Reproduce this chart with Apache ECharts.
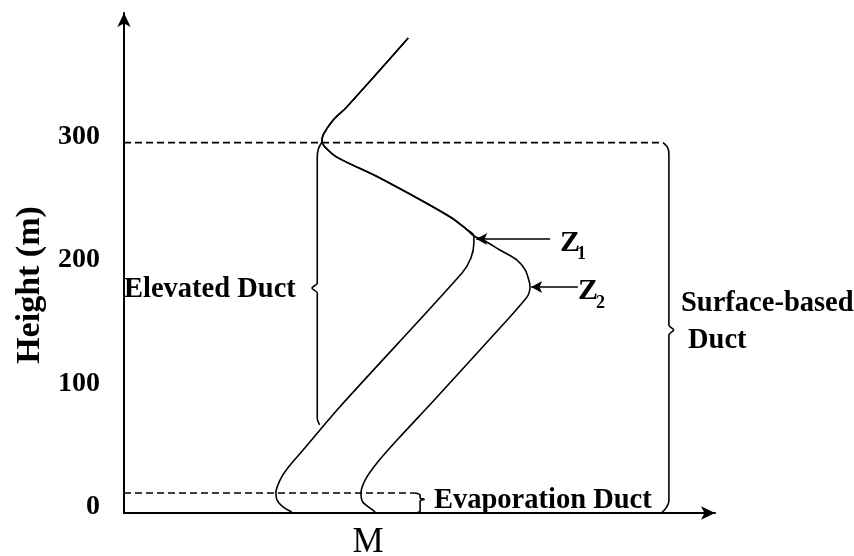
<!DOCTYPE html>
<html>
<head>
<meta charset="utf-8">
<script src="https://cdn.jsdelivr.net/npm/echarts@6/dist/echarts.min.js"></script>
<style>
html, body { margin: 0; padding: 0; background: #fff; }
#main { width: 854px; height: 556px; }
</style>
</head>
<body>
<div id="main"></div>
<script>
// M is in arbitrary units (0..100 along the axis), height in metres
var upperM = [48.1, 37.7, 35.4, 33.7, 33.5, 34.0, 36.0, 43.3, 55.2, 57.9, 59.2];
var upperH = [384.7, 328.9, 318.3, 306.2, 300.5, 296.5, 288.3, 271.3, 239.8, 230.0, 224.4];
var elevM = [59.2, 58.7, 57.2, 36.5, 30.3, 27.7, 26.4, 25.7, 25.9, 26.9, 28.4];
var elevH = [218.7, 206.5, 194.4, 85.9, 51.0, 36.4, 26.7, 16.2, 10.5, 4.9, 0.8];
var surfM = [61.1, 63.6, 66.5, 67.9, 68.5, 68.7, 68.4, 67.5, 65.3, 52.5, 46.2, 42.8, 40.8, 40.1, 40.4, 42.1, 42.5];
var surfH = [220.3, 213.0, 204.9, 196.8, 188.7, 183.1, 176.6, 170.9, 158.8, 91.5, 59.1, 40.5, 26.7, 16.2, 8.9, 2.4, 0.8];
var yTicks = [0, 100, 200, 300];

// duct tops (dashed lines) and where they stop on the M axis
var ductTopH = [300, 16.2];
var ductTopEnd = [91.2, 49.2];

// braces
var elevBrace = [[33.5, 300.5], [32.9, 295], [32.7, 288], [32.7, 186.3], [31.8, 182.2], [32.7, 178.1], [32.7, 77], [33.1, 71.3]];
var surfBrace = [[91.2, 300], [92.0, 296], [92.2, 290], [92.2, 152.3], [93.0, 148.2], [92.2, 144.1], [92.2, 10], [91.7, 4], [90.9, 0]];
var evapBrace = [[49.2, 16.2], [50.1, 14.6], [50.1, 12.2], [50.8, 11.0], [50.1, 9.8], [50.1, 1.6], [49.4, 0]];

// Z1 / Z2 arrows: [from M, to M, height]
var z1Arrow = [72.1, 59.6, 221.9];
var z2Arrow = [76.8, 68.9, 183.1];

function zip(ms, hs) {
    return ms.map(function (m, i) { return [m, hs[i]]; });
}

var serif = '"Liberation Serif", "Times New Roman", serif';
var black = '#000';
var noteFont = 'bold 28.5px ' + serif;

function lineSeries(data, extra) {
    var s = {
        type: 'line',
        data: data,
        symbol: 'none',
        silent: true,
        lineStyle: { color: black, width: 1.6 }
    };
    for (var k in extra) s[k] = extra[k];
    return s;
}

var myChart = echarts.init(document.getElementById('main'));
var option = {
    backgroundColor: '#fff',
    animation: false,
    grid: { left: 124, right: 139, top: 13, bottom: 43, outerBoundsMode: 'none' },
    xAxis: {
        type: 'value',
        min: 0,
        max: 100,
        axisLine: {
            show: true,
            symbol: ['none', 'arrow'],
            symbolSize: [10, 14],
            lineStyle: { color: black, width: 2 }
        },
        axisTick: { show: false },
        axisLabel: { show: false },
        splitLine: { show: false },
        name: 'M',
        nameLocation: 'middle',
        nameGap: 12,
        nameTextStyle: { fontFamily: serif, fontSize: 35, color: black, padding: [0, 103, 0, 0] }
    },
    yAxis: {
        type: 'value',
        min: 0,
        max: 405,
        interval: 100,
        axisLine: {
            show: true,
            symbol: ['none', 'arrow'],
            symbolSize: [10, 14],
            lineStyle: { color: black, width: 2 }
        },
        axisTick: { show: false },
        splitLine: { show: false },
        axisLabel: {
            margin: 24,
            fontFamily: serif,
            fontWeight: 'bold',
            fontSize: 28,
            color: black,
            verticalAlign: 'bottom',
            lineHeight: 12,
            formatter: function (v) { return yTicks.indexOf(v) >= 0 ? v : ''; }
        },
        name: 'Height (m)',
        nameLocation: 'middle',
        nameRotate: 90,
        nameGap: 73,
        nameTextStyle: { fontFamily: serif, fontWeight: 'bold', fontSize: 34, color: black, padding: [0, 44, 0, 0] }
    },
    series: [
        lineSeries(zip(upperM, upperH).concat(zip(elevM, elevH)), { smooth: 0.3 }),
        lineSeries(zip(upperM, upperH).concat(zip(surfM, surfH)), { smooth: 0.3 }),
        lineSeries([[0, ductTopH[0]], [ductTopEnd[0], ductTopH[0]]], { lineStyle: { color: black, width: 1.6, type: [7, 4] } }),
        lineSeries([[0, ductTopH[1]], [ductTopEnd[1], ductTopH[1]]], { lineStyle: { color: black, width: 1.6, type: [7, 4] } }),
        lineSeries(elevBrace, { smooth: 0.3 }),
        lineSeries(surfBrace, { smooth: 0.3 }),
        lineSeries(evapBrace, { smooth: 0.3 }),
        lineSeries([], {
            markLine: {
                silent: true,
                symbol: ['none', 'arrow'],
                symbolSize: [9, 11],
                label: { show: false },
                lineStyle: { color: black, width: 1.6, type: 'solid' },
                data: [
                    [{ coord: [z1Arrow[0], z1Arrow[2]] }, { coord: [z1Arrow[1], z1Arrow[2]] }],
                    [{ coord: [z2Arrow[0], z2Arrow[2]] }, { coord: [z2Arrow[1], z2Arrow[2]] }]
                ]
            }
        })
    ],
    graphic: [
        { type: 'text', x: 124, y: 290, style: { text: 'Elevated Duct', font: noteFont, fill: black, verticalAlign: 'middle' } },
        { type: 'text', x: 434, y: 501, style: { text: 'Evaporation Duct', font: noteFont, fill: black, verticalAlign: 'middle' } },
        { type: 'text', x: 681, y: 304, style: { text: 'Surface-based', font: noteFont, fill: black, verticalAlign: 'middle' } },
        { type: 'text', x: 688, y: 341, style: { text: 'Duct', font: noteFont, fill: black, verticalAlign: 'middle' } },
        { type: 'text', x: 560, y: 243, style: { text: 'Z', font: 'bold 30px ' + serif, fill: black, verticalAlign: 'middle' } },
        { type: 'text', x: 577, y: 254, style: { text: '1', font: 'bold 18px ' + serif, fill: black, verticalAlign: 'middle' } },
        { type: 'text', x: 578, y: 291, style: { text: 'Z', font: 'bold 30px ' + serif, fill: black, verticalAlign: 'middle' } },
        { type: 'text', x: 596, y: 303, style: { text: '2', font: 'bold 18px ' + serif, fill: black, verticalAlign: 'middle' } }
    ]
};
myChart.setOption(option);
</script>
</body>
</html>
